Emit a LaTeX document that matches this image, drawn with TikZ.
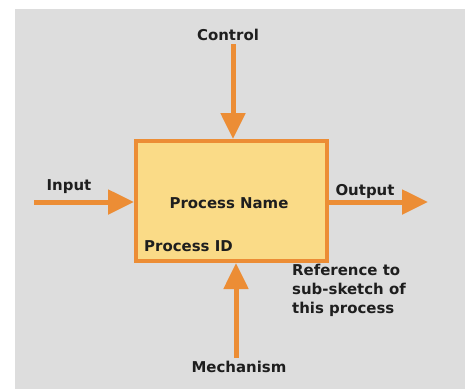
\documentclass[tikz,border=0pt]{standalone}
\usepackage{fontspec}
\setmainfont{DejaVu Sans}
\usetikzlibrary{arrows.meta}
\definecolor{panel}{HTML}{DDDDDD}
\definecolor{flow}{HTML}{EC8D35}
\definecolor{boxfill}{HTML}{FADB87}
\definecolor{ink}{HTML}{1E1E1E}
\tikzset{
  lbl/.style={font=\bfseries\fontsize{15}{19}\selectfont, text=ink, inner sep=0pt},
  flowline/.style={draw=flow, line width=5bp, -{Triangle[length=26bp,width=24bp]}},
  procbox/.style={draw=flow, fill=boxfill, line width=4bp, rectangle,
    minimum width=191bp, minimum height=120bp, inner sep=0pt}
}
\begin{document}
\begin{tikzpicture}[x=1bp, y=-1bp]
  \useasboundingbox (0,0) rectangle (465,389);
  \fill[panel] (15,9) rectangle (465,389);

  % the activity box
  \node[procbox] (box) at (231.5,201) {};
  \node[lbl] (pname) at (229,203) {Process Name};
  \node[lbl, anchor=west] (pid) at (144,246) {Process ID};

  % free ends of the connectors
  \coordinate (ctl) at (233,44);
  \coordinate (inp) at (34,202);
  \coordinate (out) at (428,202);
  \coordinate (mech) at (236,358);

  \draw[flowline] (ctl) -- (ctl |- box.north);
  \draw[flowline] (inp) -- (inp -| box.west);
  \draw[flowline] (out -| box.east) -- (out);
  \draw[flowline] (mech) -- (mech |- box.south);

  % labels
  \node[lbl] (lctl) at (228,35) {Control};
  \node[lbl] (linp) at (69,187) {Input};
  \node[lbl] (lout) at (365,191) {Output};
  \node[lbl] (lmech) at (239,367) {Mechanism};
  \node[lbl, anchor=north west, align=left] (lref) at (292,264)
    {Reference to\\sub-sketch of\\this process};
\end{tikzpicture}
\end{document}
